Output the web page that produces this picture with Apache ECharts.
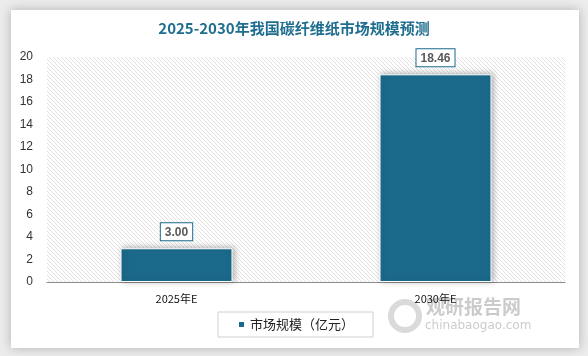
<!DOCTYPE html>
<html><head><meta charset="utf-8">
<script src="https://cdn.jsdelivr.net/npm/echarts@6/dist/echarts.min.js"></script>
<style>html,body{margin:0;padding:0;background:#ececec;}#c{width:588px;height:356px;}</style>
</head><body><div id="c"></div>
<script>
const categories = ['2025年E', '2030年E'];
const seriesName = '市场规模（亿元）';
const values = [3.00, 18.46];
const yTicks = [0, 2, 4, 6, 8, 10, 12, 14, 16, 18, 20];

// hatch pattern
const pc = document.createElement('canvas');
pc.width = 4; pc.height = 4;
const px = pc.getContext('2d');
px.fillStyle = '#ffffff'; px.fillRect(0,0,4,4);
px.strokeStyle = '#e2e2e2'; px.lineWidth = 1;
px.beginPath();
px.moveTo(-1,-1); px.lineTo(5,5);
px.moveTo(-1,3); px.lineTo(1,5);
px.moveTo(3,-1); px.lineTo(5,1);
px.stroke();

const chart = echarts.init(document.getElementById('c'), null, {renderer:'canvas'});
chart.setOption({
  backgroundColor: 'transparent',
  animation: false,
  graphic: [
    {type:'rect', z:-10, shape:{x:11,y:10,width:568,height:338}, style:{fill:'#ffffff', shadowBlur:10, shadowColor:'rgba(0,0,0,0.25)'}},
    {type:'text', z:-5, left:426, top:297, style:{text:'观研报告网', font:'bold 19px "Noto Sans CJK SC"', fill:'rgba(140,140,140,0.45)'}},
    {type:'text', z:-5, left:425, top:320, style:{text:'chinabaogao.com', font:'12px "DejaVu Sans"', fill:'rgba(140,140,140,0.45)'}},
    {type:'circle', z:-5, shape:{cx:405, cy:316, r:14}, style:{fill:'none', stroke:'rgba(150,150,150,0.35)', lineWidth:6}}
  ],
  title: {
    text: '2025-2030年我国碳纤维纸市场规模预测',
    left: 'center', top: 16,
    textStyle: {fontFamily: '"Noto Sans CJK SC"', fontSize: 15, fontWeight: 'bold', color: '#1f6e8f'}
  },
  grid: {left: 47, right: 23, top: 57, bottom: 74, show: true, borderWidth: 0,
    backgroundColor: {image: pc, repeat: 'repeat'}},
  legend: {
    data: [seriesName], top: 312, left: 218,
    itemWidth: 7, itemHeight: 7, icon: 'rect', itemGap: 0,
    borderColor: '#d0d0d0', borderWidth: 1, padding: [6, 19, 6, 19],
    textStyle: {fontFamily: '"Noto Sans CJK SC"', fontSize: 13, color: '#222'}
  },
  xAxis: {
    type: 'category', data: categories,
    axisLine: {lineStyle: {color: '#8c8c8c'}},
    axisTick: {show: false},
    axisLabel: {color: '#111', fontSize: 11, fontFamily: '"Noto Sans CJK SC"', margin: 11}
  },
  yAxis: {
    type: 'value', min: 0, max: 20, interval: 2,
    axisLine: {show: false}, axisTick: {show: false}, splitLine: {show: false},
    axisLabel: {color: '#333', fontSize: 12, fontFamily: '"Liberation Sans"', margin: 14,
      formatter: v => yTicks.includes(v) ? String(v) : ''}
  },
  series: [{
    name: seriesName, type: 'bar', data: values, barWidth: 112,
    itemStyle: {color: '#1b6a8c', borderColor: '#ffffff', borderWidth: 1,
      shadowBlur: 6, shadowColor: 'rgba(0,0,0,0.3)', shadowOffsetX: 2, shadowOffsetY: -1},
    label: {show: true, position: 'top', distance: 8,
      formatter: p => p.value.toFixed(2),
      fontFamily: '"Liberation Sans"', fontWeight: 'bold', fontSize: 12, color: '#595959',
      backgroundColor: '#ffffff', borderColor: '#1b6a8c', borderWidth: 1, padding: [3, 4, 2, 4]}
  }]
});
</script></body></html>
